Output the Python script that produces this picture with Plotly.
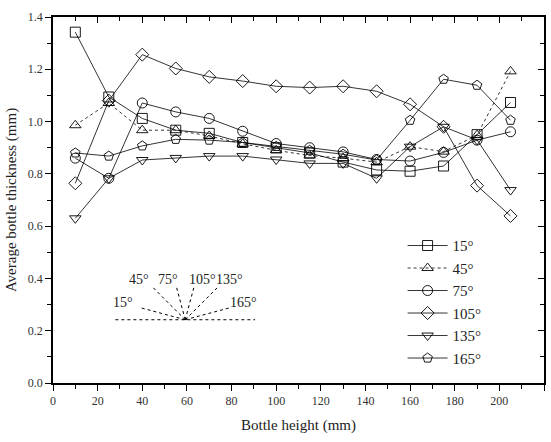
import plotly.graph_objects as go
import math

# ---- data ----
heights = [10, 25, 40, 55, 70, 85, 100, 115, 130, 145, 160, 175, 190, 205]
series_names = ["15°", "45°", "75°", "105°", "135°", "165°"]
t15 = [1.342, 1.094, 1.012, 0.967, 0.955, 0.92, 0.90, 0.88, 0.845, 0.815, 0.81, 0.83, 0.95, 1.073]
t45 = [0.986, 1.071, 0.967, 0.967, 0.945, 0.915, 0.89, 0.87, 0.86, 0.845, 0.904, 0.885, 0.948, 1.192]
t75 = [0.86, 0.783, 1.071, 1.037, 1.012, 0.963, 0.916, 0.90, 0.884, 0.855, 0.849, 0.882, 0.929, 0.961]
t105 = [0.764, 1.08, 1.256, 1.203, 1.171, 1.155, 1.135, 1.130, 1.135, 1.116, 1.066, 0.98, 0.755, 0.639]
t135 = [0.63, 0.783, 0.853, 0.861, 0.868, 0.868, 0.855, 0.84, 0.84, 0.783, 0.904, 0.98, 0.93, 0.738]
t165 = [0.88, 0.868, 0.907, 0.932, 0.929, 0.92, 0.905, 0.89, 0.875, 0.853, 1.005, 1.162, 1.139, 1.005]
values = [t15, t45, t75, t105, t135, t165]
symbols = ["square-open", "triangle-up-open", "circle-open", "diamond-open", "triangle-down-open", "pentagon-open"]
line_dash = ["solid", "dot", "solid", "solid", "solid", "solid"]

x_ticks = list(range(0, 221, 20))
y_ticks = [0.0, 0.2, 0.4, 0.6, 0.8, 1.0, 1.2, 1.4]

# inset diagram
inset_angles = [15, 45, 75, 105, 135, 165]
inset_len_px = [48, 46, 34, 34, 46, 48]
inset_labels = ["15°", "45°", "75°", "105°", "135°", "165°"]
inset_label_px = [(123, 303), (139, 280), (167.5, 280), (202, 280), (229, 280), (243, 303)]

W, H = 551, 442
L, R, T, B = 52.5, 6.5, 16.6, 58.6
XR = [0, 220]
YR = [0, 1.4]
pw = W - L - R
ph = H - T - B


def px2data(px, py):
    return (XR[0] + (px - L) / pw * (XR[1] - XR[0]),
            YR[0] + (H - B - py) / ph * (YR[1] - YR[0]))


serif = "Liberation Serif"
fig = go.Figure()
for name, vals, sym, dash in zip(series_names, values, symbols, line_dash):
    fig.add_trace(go.Scatter(
        x=heights, y=vals, name=name, mode="lines+markers",
        line=dict(color="black", width=0.8, dash=dash),
        marker=dict(symbol=sym, size=10, color="black", line=dict(width=0.9, color="black")),
    ))

# inset: baseline and rays
cx_px, cy_px = 185, 320
shapes = []
x0, y0 = px2data(115, cy_px)
x1, y1 = px2data(255, cy_px)
shapes.append(dict(type="line", xref="x", yref="y", x0=x0, y0=y0, x1=x1, y1=y1,
                   line=dict(color="black", width=1, dash="dot")))
cx, cy = px2data(cx_px, cy_px)
for ang, ln in zip(inset_angles, inset_len_px):
    ex_px = cx_px - ln * math.cos(math.radians(ang))
    ey_px = cy_px - ln * math.sin(math.radians(ang))
    ex, ey = px2data(ex_px, ey_px)
    shapes.append(dict(type="line", xref="x", yref="y", x0=cx, y0=cy, x1=ex, y1=ey,
                       line=dict(color="black", width=1, dash="dot")))

annotations = []
for lab, (lx, ly) in zip(inset_labels, inset_label_px):
    ax, ay = px2data(lx, ly)
    annotations.append(dict(x=ax, y=ay, xref="x", yref="y", text=lab, showarrow=False,
                            font=dict(family=serif, size=14, color="#222")))

axis_common = dict(showgrid=False, zeroline=False, showline=True, linecolor="black", linewidth=1.5,
                   ticks="outside", ticklen=6, tickwidth=1.2, tickcolor="black",
                   tickfont=dict(family=serif, size=12, color="#333"))

fig.update_layout(
    width=W, height=H,
    margin=dict(l=L, r=R, t=T, b=B, pad=0),
    paper_bgcolor="white", plot_bgcolor="white",
    showlegend=True,
    legend=dict(x=0.712, y=0.42, xanchor="left", yanchor="top",
                font=dict(family=serif, size=15, color="#222"),
                bgcolor="rgba(0,0,0,0)", tracegroupgap=0, itemwidth=40),
    xaxis=dict(range=XR, tickvals=x_ticks, minor=dict(dtick=10, ticks="outside", ticklen=4, tickcolor="black"),
               title=dict(text="Bottle height (mm)", font=dict(family=serif, size=15, color="#222"), standoff=12),
               **axis_common),
    yaxis=dict(range=YR, tickvals=y_ticks, tickformat=".1f",
               minor=dict(dtick=0.1, ticks="outside", ticklen=4, tickcolor="black"),
               title=dict(text="Average bottle thickness (mm)", font=dict(family=serif, size=15, color="#222"), standoff=8),
               **axis_common),
    xaxis2=dict(range=XR, overlaying="x", side="top", showline=True, linecolor="black", linewidth=1.5,
                ticks="inside", ticklen=6, tickvals=x_ticks, showticklabels=False, showgrid=False, zeroline=False,
                minor=dict(dtick=10, ticks="inside", ticklen=4, tickcolor="black"), tickcolor="black"),
    yaxis2=dict(range=YR, overlaying="y", side="right", showline=True, linecolor="black", linewidth=1.5,
                ticks="inside", ticklen=6, tickvals=y_ticks, showticklabels=False, showgrid=False, zeroline=False,
                minor=dict(dtick=0.1, ticks="inside", ticklen=4, tickcolor="black"), tickcolor="black"),
    shapes=shapes,
    annotations=annotations,
)
# empty trace to anchor the mirrored top/right axes
fig.add_trace(go.Scatter(x=[None], y=[None], xaxis="x2", yaxis="y2", showlegend=False, hoverinfo="skip"))

fig.write_html("out.html")
